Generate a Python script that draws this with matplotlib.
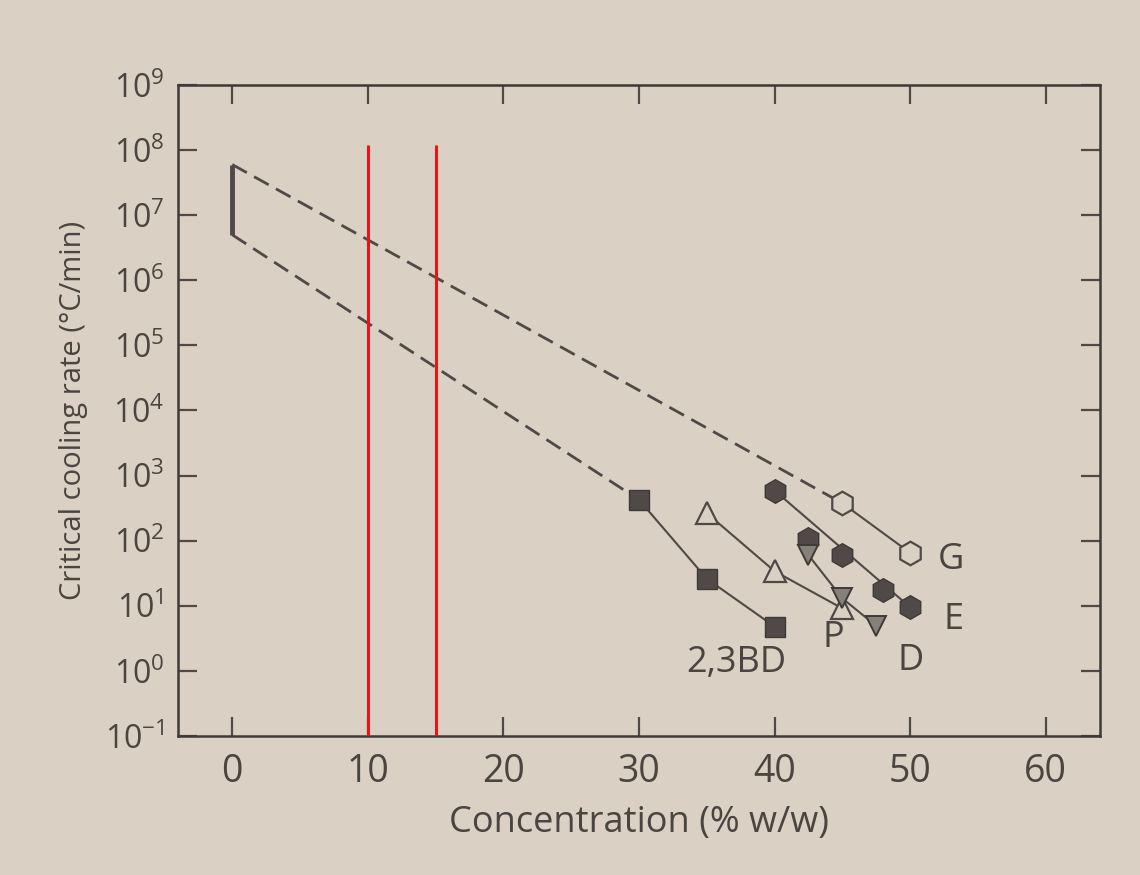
import matplotlib
matplotlib.use("Agg")
import matplotlib.pyplot as plt

plt.rcParams['font.family'] = ['Open Sans', 'DejaVu Sans']
plt.rcParams['mathtext.fontset'] = 'custom'
plt.rcParams['mathtext.rm'] = 'Open Sans'
plt.rcParams['mathtext.it'] = 'Open Sans:italic'
plt.rcParams['axes.unicode_minus'] = False

# ---------------- data ----------------
bd_x = [30, 35, 40]            # 2,3-butanediol
bd_y = [425, 26, 4.8]
p_x = [35, 40, 45]             # P (open up-triangles)
p_y = [265, 34, 9.1]
d_x = [42.5, 45, 47.5]         # D (hatched down-triangles)
d_y = [60, 13, 4.9]
e_x = [40, 42.5, 45, 48, 50]   # E (filled hexagons)
e_y = [590, 107, 60, 17.5, 9.5]
g_x = [45, 50]                 # G (open hexagons)
g_y = [376, 65]
water_x = [0, 0]               # pure water range at 0 %
water_y = [5e6, 6e7]
red_x = [10, 15]               # red vertical markers
red_y = [0.1, 1.2e8]

x_ticks = [0, 10, 20, 30, 40, 50, 60]
y_exps = [-1, 0, 1, 2, 3, 4, 5, 6, 7, 8, 9]

series_labels = ["2,3BD", "P", "D", "E", "G"]
label_x = [37.2, 44.3, 50.0, 53.2, 53.0]
label_y = [1.3, 3.2, 1.4, 6.0, 50]

# ---------------- style ----------------
bg = '#dad0c3'
ink = '#4a4541'
dark = '#4f4a47'
hatch_gray = '#86807b'

fig = plt.figure(figsize=(11.4, 8.75), dpi=100, facecolor=bg)
ax = fig.add_axes([178/1140, (875-736)/875, (1100-178)/1140, (736-85)/875])
ax.set_facecolor(bg)
ax.set_yscale('log')
ax.set_xlim(-4, 64)
ax.set_ylim(1e-1, 1e9)

# dashed extrapolations from the water bar
ax.plot([water_x[0], g_x[0]], [water_y[1], g_y[0]], color=dark, lw=2,
        dashes=(6, 3), zorder=2)
ax.plot([water_x[0], bd_x[0]], [water_y[0], bd_y[0]], color=dark, lw=2,
        dashes=(6, 3), zorder=2)
ax.plot(water_x, water_y, color=dark, lw=3.5, solid_capstyle='butt', zorder=3)

# series lines
ax.plot(bd_x, bd_y, color=dark, lw=1.5, zorder=2)
ax.plot(p_x, p_y, color=dark, lw=1.5, zorder=2)
ax.plot(d_x, d_y, color=dark, lw=1.5, zorder=2)
ax.plot([e_x[0], e_x[-1]], [e_y[0], e_y[-1]], color=dark, lw=1.5, zorder=2)
ax.plot(g_x, g_y, color=dark, lw=1.5, zorder=2)

# markers
ax.plot(bd_x, bd_y, ls='none', marker='s', ms=15, mfc=dark, mec='#3e3a37', mew=1, zorder=4)
ax.plot(p_x, p_y, ls='none', marker='^', ms=16, mfc=bg, mec=dark, mew=1.6, zorder=4)
ax.plot(d_x, d_y, ls='none', marker='v', ms=15, mfc=hatch_gray, mec='#3e3a37', mew=1.4, zorder=5)
ax.plot(e_x, e_y, ls='none', marker='h', ms=17, mfc=dark, mec='#3e3a37', mew=1, zorder=4)
ax.plot(g_x, g_y, ls='none', marker='h', ms=17, mfc=bg, mec=dark, mew=1.6, zorder=4)

# red vertical lines
ax.vlines(red_x, red_y[0], red_y[1], colors='#e8141c', lw=2.2, zorder=6)

# series labels
for t, lx, ly in zip(series_labels, label_x, label_y):
    ax.text(lx, ly, t, fontsize=26, color=ink, ha='center', va='center')

# axes / ticks
ax.set_xticks(x_ticks)
ax.set_xticklabels([str(v) for v in x_ticks])
ax.set_yticks([10.0**e for e in y_exps])
ax.set_yticklabels([r'$\mathregular{10^{%s}}$' % ('\u2212' + str(-e) if e < 0 else str(e)) for e in y_exps])
ax.minorticks_off()
ax.tick_params(axis='both', which='major', direction='in', length=14, width=1.6,
               color=dark, top=True, right=True, labelcolor=ink)
ax.tick_params(axis='x', labelsize=27, pad=12)
ax.tick_params(axis='y', labelsize=23, pad=10)
for s in ax.spines.values():
    s.set_color('#3e3a37')
    s.set_linewidth(1.8)

ax.set_xlabel('Concentration (% w/w)', fontsize=26, color=ink, labelpad=10)
ax.set_ylabel('Critical cooling rate (\u00b0C/min)', fontsize=21, color=ink, labelpad=12)

fig.savefig('out.png', dpi=100, facecolor=bg)
